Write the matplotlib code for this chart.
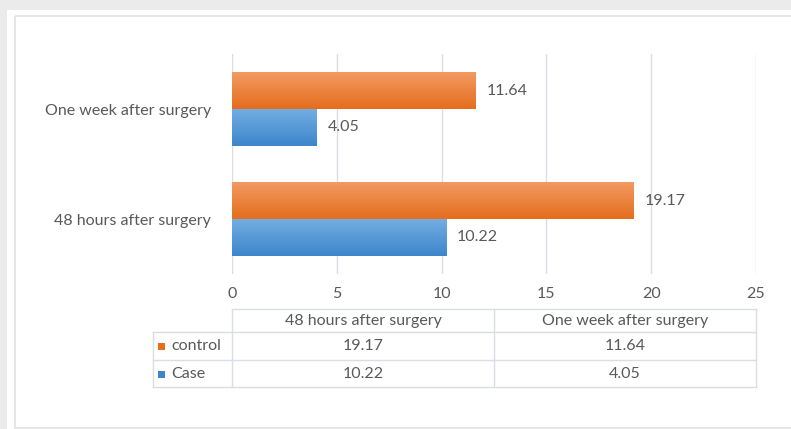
import matplotlib.pyplot as plt
import numpy as np
from matplotlib.colors import to_rgb
from matplotlib.patches import Rectangle

# ----------------------------
# DATA
# ----------------------------
categories = ["48 hours after surgery", "One week after surgery"]
series_names = ["control", "Case"]
control_values = [19.17, 11.64]
case_values = [10.22, 4.05]
x_ticks = [0, 5, 10, 15, 20, 25]

# ----------------------------
# STYLE
# ----------------------------
W, H = 791, 429
TEXT = "#595959"
GRID = "#dadde3"
ORANGE_TOP, ORANGE_BOT = "#f39a62", "#e56d1d"
BLUE_TOP, BLUE_BOT = "#72ade2", "#3d86cb"
FONT = "Lato"
FS = 11.5

plt.rcParams["font.family"] = [FONT, "DejaVu Sans"]


def px(x0, y0, w, h):
    """Pixel box (top-left origin) -> figure fraction rect."""
    return [x0 / W, 1 - (y0 + h) / H, w / W, h / H]


def gradient_bar(ax, bar, top, bot):
    """Fill a bar patch with a vertical gradient, light at the top."""
    x0, y0 = bar.get_x(), bar.get_y()
    w, h = bar.get_width(), bar.get_height()
    c_top = np.array(to_rgb(top))
    c_bot = np.array(to_rgb(bot))
    t = np.linspace(0, 1, 64)[:, None]
    img = (c_top * (1 - t) + c_bot * t)[:, None, :]
    im = ax.imshow(img, extent=(x0, x0 + w, y0, y0 + h), aspect="auto",
                   origin="upper", zorder=3)
    im.set_clip_path(bar)
    bar.set_facecolor("none")


fig = plt.figure(figsize=(W / 100, H / 100), dpi=100)
fig.patch.set_facecolor("#ebebeb")

# background / table layer in pixel coordinates
bg = fig.add_axes([0, 0, 1, 1])
bg.set_xlim(0, W)
bg.set_ylim(H, 0)
bg.axis("off")
bg.add_patch(Rectangle((7, 10), W, H, facecolor="white", edgecolor="none"))
bg.add_patch(Rectangle((15, 16), W + 20, H - 17, facecolor="none",
                       edgecolor="#e2e2e2", linewidth=1.2))

# ----------------------------
# BAR CHART
# ----------------------------
ax_left, ax_right, ax_top, ax_bot = 232, 756, 54, 274
ax = fig.add_axes(px(ax_left, ax_top, ax_right - ax_left, ax_bot - ax_top))
ax.patch.set_alpha(0)

y = np.arange(len(categories))
bh = 0.335
ctrl_bars = ax.barh(y + bh / 2, control_values, height=bh, color=ORANGE_BOT, zorder=3)
case_bars = ax.barh(y - bh / 2, case_values, height=bh, color=BLUE_BOT, zorder=3)
for b in ctrl_bars:
    gradient_bar(ax, b, ORANGE_TOP, ORANGE_BOT)
for b in case_bars:
    gradient_bar(ax, b, BLUE_TOP, BLUE_BOT)

for bars, vals in [(ctrl_bars, control_values), (case_bars, case_values)]:
    for b, v in zip(bars, vals):
        ax.text(v + 0.5, b.get_y() + b.get_height() / 2, f"{v:.2f}",
                va="center", ha="left", fontsize=FS, color=TEXT)

ax.set_xlim(0, 25)
ax.set_ylim(-0.5, len(categories) - 0.5)
ax.set_xticks(x_ticks)
ax.set_xticklabels([str(t) for t in x_ticks])
ax.set_yticks(y)
ax.set_yticklabels(categories)
ax.tick_params(axis="both", length=0, colors=TEXT, labelsize=FS)
ax.tick_params(axis="x", pad=9)
ax.tick_params(axis="y", pad=15)
ax.grid(axis="x", color=GRID, linewidth=1, zorder=0)
for s in ax.spines.values():
    s.set_visible(False)

# ----------------------------
# DATA TABLE
# ----------------------------
tbl_left = 153
col_edges = [ax_left + i * (ax_right - ax_left) / len(categories)
             for i in range(len(categories) + 1)]
row_edges = [309, 332, 360, 387]
line_kw = dict(color=GRID, linewidth=1)

# header row (no left cell)
bg.plot([ax_left, ax_right], [row_edges[0], row_edges[0]], **line_kw)
for r in row_edges[1:]:
    bg.plot([tbl_left, ax_right], [r, r], **line_kw)
bg.plot([tbl_left, tbl_left], [row_edges[1], row_edges[-1]], **line_kw)
for c in col_edges:
    bg.plot([c, c], [row_edges[0], row_edges[-1]], **line_kw)

for i, cat in enumerate(categories):
    cx = (col_edges[i] + col_edges[i + 1]) / 2
    bg.text(cx, (row_edges[0] + row_edges[1]) / 2, cat, ha="center",
            va="center", fontsize=FS, color=TEXT)

rows = [(series_names[0], control_values, ORANGE_BOT),
        (series_names[1], case_values, BLUE_BOT)]
for j, (name, vals, col) in enumerate(rows):
    cy = (row_edges[j + 1] + row_edges[j + 2]) / 2
    bg.add_patch(Rectangle((158, cy - 3), 7, 7, facecolor=col, edgecolor="none"))
    bg.text(171, cy, name, ha="left", va="center", fontsize=FS, color=TEXT)
    for i, v in enumerate(vals):
        cx = (col_edges[i] + col_edges[i + 1]) / 2
        bg.text(cx, cy, f"{v:.2f}", ha="center", va="center",
                fontsize=FS, color=TEXT)

fig.savefig("out.png", dpi=100, facecolor=fig.get_facecolor())
